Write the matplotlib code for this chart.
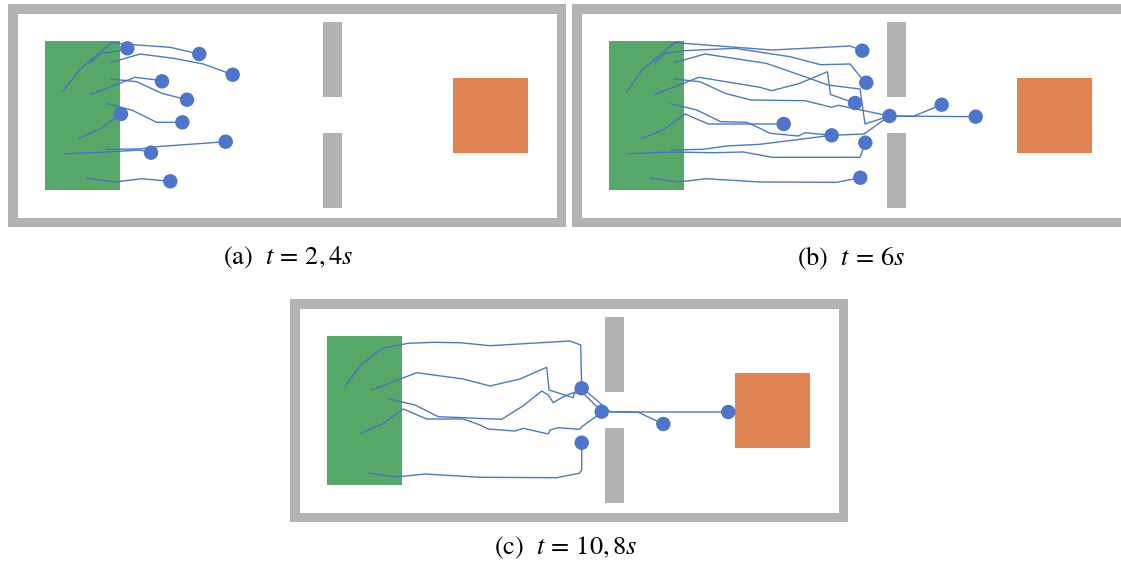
import matplotlib
matplotlib.use("Agg")
import matplotlib.pyplot as plt
from matplotlib.patches import Rectangle, Circle

plt.rcParams['mathtext.fontset'] = 'stix'
plt.rcParams['font.family'] = ['STIXGeneral', 'DejaVu Serif']

# room geometry (metres, origin top-left of the room, y pointing down)
room_w, room_h = 53.9, 20.4
spawn = (2.7, 2.7, 7.5, 14.9)          # x, y, w, h
target = (43.5, 6.4, 7.5, 7.5)
walls = [(30.5, 0.8, 1.9, 7.5), (30.5, 11.9, 1.9, 7.5)]

# agent trajectories, last point = current position
paths_a = [
    [(4.47, 7.77), (6.2, 5.53), (9.37, 2.83), (10.53, 3.0), (15.2, 3.33), (18.13, 4.0)],
    [(7.2, 4.87), (8.37, 3.93), (10.2, 3.67), (10.93, 3.43)],
    [(9.27, 4.87), (12.2, 4.0), (15.53, 4.43), (18.53, 5.0), (21.47, 6.07)],
    [(7.2, 8.07), (11.7, 6.33), (13.87, 6.6), (14.4, 6.73)],
    [(9.27, 6.5), (11.87, 6.77), (14.37, 7.93), (16.9, 8.57)],
    [(8.87, 8.97), (11.37, 9.6), (13.87, 10.83), (16.43, 10.83)],
    [(6.03, 12.47), (8.2, 11.5), (10.3, 10.0)],
    [(4.63, 13.97), (8.87, 13.8), (12.2, 13.6), (13.3, 13.87)],
    [(8.87, 13.53), (12.2, 13.5), (13.87, 13.27), (20.77, 12.77)],
    [(6.87, 16.4), (9.7, 16.8), (12.37, 16.47), (15.23, 16.73)],
]

paths_b = [
    [(4.47, 7.77), (6.03, 5.6), (9.3, 2.83), (10.13, 2.93), (19.0, 3.6), (26.8, 3.2), (28.03, 3.67)],
    [(7.3, 4.87), (8.3, 3.93), (10.2, 3.67), (15.3, 3.43), (20.8, 4.27), (23.87, 5.07), (26.8, 5.0),
     (27.97, 6.43), (28.43, 6.87)],
    [(9.2, 4.87), (12.3, 4.0), (18.4, 4.93), (21.8, 6.1), (24.6, 7.1), (27.8, 7.5), (28.3, 11.0),
     (30.75, 10.2)],
    [(9.2, 6.5), (11.8, 6.77), (14.3, 7.93), (16.9, 8.6), (22.3, 8.67), (24.97, 9.33), (25.63, 9.13),
     (30.75, 10.2), (39.37, 10.27)],
    [(7.2, 8.07), (11.7, 6.33), (17.8, 7.33), (18.97, 7.67), (21.8, 6.93), (24.55, 5.77), (24.85, 8.05),
     (27.3, 8.9)],
    [(8.87, 8.97), (11.47, 9.6), (13.87, 10.77), (16.47, 10.83), (17.8, 11.43), (18.8, 11.93),
     (21.63, 12.2), (22.3, 11.87), (24.97, 12.13)],
    [(5.97, 12.47), (8.3, 11.5), (10.3, 10.0), (12.63, 11.0), (17.8, 11.0), (20.17, 11.0)],
    [(4.63, 13.97), (8.97, 13.8), (13.13, 13.87), (16.13, 13.8), (17.8, 14.1), (18.97, 14.33),
     (27.8, 14.33), (28.33, 12.87)],
    [(8.97, 13.6), (12.13, 13.53), (14.47, 13.2), (17.8, 13.03), (24.97, 12.13), (28.2, 12.0),
     (30.75, 10.2), (33.13, 10.23), (35.97, 9.07)],
    [(6.8, 16.4), (9.63, 16.8), (12.4, 16.47), (17.8, 16.8), (25.47, 16.83), (27.83, 16.37)],
]

paths_c = [
    [(4.5, 7.77), (6.07, 5.6), (8.23, 3.93), (10.83, 3.43), (13.33, 3.33), (16.0, 3.37), (19.0, 3.67),
     (27.0, 3.2), (28.07, 3.6), (28.17, 7.93)],
    [(7.17, 8.1), (11.67, 6.37), (16.33, 7.0), (19.0, 7.7), (22.0, 7.0), (24.67, 5.83), (24.9, 8.1),
     (27.33, 8.87), (27.43, 8.43), (28.6, 8.2), (31.0, 10.27), (33.83, 10.3), (42.83, 10.3)],
    [(8.83, 8.97), (11.5, 9.6), (13.83, 10.77), (16.33, 10.87), (20.17, 11.03), (22.33, 9.67),
     (24.17, 8.2), (24.83, 8.6), (25.33, 9.37), (26.33, 8.77), (28.0, 8.1), (30.2, 10.27),
     (33.83, 10.33), (36.33, 11.5)],
    [(6.0, 12.47), (8.23, 11.5), (10.33, 10.0), (12.67, 11.0), (16.33, 11.0), (18.0, 11.6), (18.83, 12.0),
     (21.5, 12.2), (22.33, 11.93), (24.83, 12.5), (25.0, 12.1), (25.83, 11.87), (28.0, 12.03),
     (28.17, 11.77), (29.5, 10.83), (30.17, 10.27)],
    [(6.83, 16.4), (9.67, 16.8), (12.5, 16.5), (18.0, 16.83), (25.67, 16.87), (27.93, 16.43),
     (28.17, 16.1), (28.17, 13.37)],
]

captions = [r'(a)  $t\,=\,2,4s$', r'(b)  $t\,=\,6s$', r'(c)  $t\,=\,10,8s$']

W, H = 1121, 567
fig = plt.figure(figsize=(W / 100, H / 100), dpi=100)

GRAY = '#b3b3b3'
GREEN = '#57a766'
ORANGE = '#df8451'
BLUE = '#4472c4'
DOT = '#4e75cc'


def draw_panel(left_px, top_px, paths, cut_right=False):
    ax = fig.add_axes([left_px / W, 1 - (top_px + 223) / H, 558 / W, 223 / H])
    ax.set_xlim(-1.0, room_w + 0.9)
    ax.set_ylim(room_h + 0.9, -1.0)
    ax.axis('off')
    ax.add_patch(Rectangle((-1.0, -1.0), room_w + 1.9, room_h + 1.9, color=GRAY, lw=0, clip_on=False))
    # the right-hand panel is cropped by the page, so its white floor runs off the edge
    extra = 3.0 if cut_right else 0.0
    ax.add_patch(Rectangle((0, 0), room_w + extra, room_h, color='white', lw=0, clip_on=False))
    ax.add_patch(Rectangle(spawn[:2], spawn[2], spawn[3], color=GREEN, lw=0))
    ax.add_patch(Rectangle(target[:2], target[2], target[3], color=ORANGE, lw=0))
    for w in walls:
        ax.add_patch(Rectangle(w[:2], w[2], w[3], color=GRAY, lw=0))
    for p in paths:
        xs = [q[0] for q in p]
        ys = [q[1] for q in p]
        ax.plot(xs, ys, color=BLUE, lw=1.0, alpha=0.95, zorder=3)
    for p in paths:
        ax.add_patch(Circle(p[-1], 0.72, color=DOT, lw=0, zorder=4))
    return ax


draw_panel(8, 4, paths_a)
draw_panel(572, 4, paths_b, cut_right=True)
draw_panel(290, 299, paths_c)

fig.text(288 / W, 1 - 258 / H, captions[0], ha='center', va='center', fontsize=19)
fig.text(851 / W, 1 - 258 / H, captions[1], ha='center', va='center', fontsize=19)
fig.text(566 / W, 1 - 548 / H, captions[2], ha='center', va='center', fontsize=19)

fig.savefig('out.png', dpi=100)
